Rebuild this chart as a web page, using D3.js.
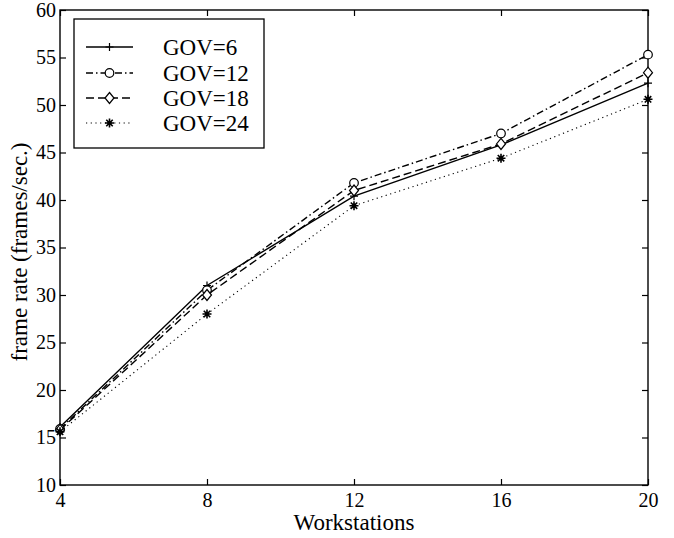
<!DOCTYPE html>
<html>
<head>
<meta charset="utf-8">
<script src="https://cdn.jsdelivr.net/npm/d3@7"></script>
<style>
  html, body { margin: 0; padding: 0; background: #fff; }
  svg text { font-family: "Liberation Serif", "DejaVu Serif", "Times New Roman", serif; fill: #000; }
</style>
</head>
<body>
<svg id="chart" width="674" height="538"></svg>
<script>
// Frame rate vs. number of workstations for several GOV sizes
const workstations = [4, 8, 12, 16, 20];
const gov6  = [16.1, 31.0, 40.4, 45.8, 52.3];
const gov12 = [15.9, 30.5, 41.8, 47.0, 55.3];
const gov18 = [15.8, 30.0, 41.0, 45.9, 53.4];
const gov24 = [15.6, 28.0, 39.4, 44.4, 50.6];
const seriesNames = ["GOV=6", "GOV=12", "GOV=18", "GOV=24"];
const xTicks = [4, 8, 12, 16, 20];
const yTicks = [10, 15, 20, 25, 30, 35, 40, 45, 50, 55, 60];

const series = [
  { name: seriesNames[0], values: gov6,  dash: null,            marker: "plus" },
  { name: seriesNames[1], values: gov12, dash: "7,3,1.5,3",     marker: "circle" },
  { name: seriesNames[2], values: gov18, dash: "8,4",           marker: "diamond" },
  { name: seriesNames[3], values: gov24, dash: "1.2,3.5",       marker: "star" }
];

const svg = d3.select("#chart");
const plotL = 60, plotR = 648, plotT = 10, plotB = 485;

const x = d3.scaleLinear().domain([4, 20]).range([plotL, plotR]);
const y = d3.scaleLinear().domain([10, 60]).range([plotB, plotT]);

// Frame
svg.append("rect")
  .attr("x", plotL).attr("y", plotT)
  .attr("width", plotR - plotL).attr("height", plotB - plotT)
  .attr("fill", "none").attr("stroke", "#000").attr("stroke-width", 1.4);

// Inward ticks on all four sides
const tickLen = 6;
const xb = d3.axisBottom(x).tickValues(xTicks).tickSizeInner(-tickLen).tickSizeOuter(0).tickPadding(10);
const xt = d3.axisTop(x).tickValues(xTicks).tickSizeInner(-tickLen).tickSizeOuter(0).tickFormat("");
const yl = d3.axisLeft(y).tickValues(yTicks).tickSizeInner(-tickLen).tickSizeOuter(0).tickPadding(10);
const yr = d3.axisRight(y).tickValues(yTicks).tickSizeInner(-tickLen).tickSizeOuter(0).tickFormat("");

function styleAxis(g) {
  g.attr("font-family", null).attr("font-size", null);
  g.select(".domain").remove();
  g.selectAll(".tick line").attr("stroke", "#000").attr("stroke-width", 1.2);
  g.selectAll(".tick text").style("font-size", "20px").attr("fill", "#000");
}

svg.append("g").attr("transform", `translate(0,${plotB})`).call(xb).call(styleAxis)
  .selectAll(".tick text").attr("dy", "0.62em");
svg.append("g").attr("transform", `translate(0,${plotT})`).call(xt).call(styleAxis);
svg.append("g").attr("transform", `translate(${plotL},0)`).call(yl).call(styleAxis)
  .selectAll(".tick text").attr("dx", "6px");
svg.append("g").attr("transform", `translate(${plotR},0)`).call(yr).call(styleAxis);

// Axis titles
svg.append("text")
  .attr("x", 354).attr("y", 530)
  .attr("text-anchor", "middle").style("font-size", "23px")
  .text("Workstations");
svg.append("text")
  .attr("transform", `translate(27,252) rotate(-90)`)
  .attr("text-anchor", "middle").style("font-size", "23px")
  .text("frame rate (frames/sec.)");

// Marker drawing
function drawMarker(g, type, cx, cy) {
  if (type === "plus") {
    g.append("path")
      .attr("d", `M${cx - 4},${cy}H${cx + 4}M${cx},${cy - 4}V${cy + 4}`)
      .attr("stroke", "#000").attr("stroke-width", 1.2).attr("fill", "none");
  } else if (type === "circle") {
    g.append("circle").attr("cx", cx).attr("cy", cy).attr("r", 4.3)
      .attr("fill", "#fff").attr("stroke", "#000").attr("stroke-width", 1.2);
  } else if (type === "diamond") {
    g.append("path")
      .attr("d", `M${cx},${cy - 5.5}L${cx + 4.5},${cy}L${cx},${cy + 5.5}L${cx - 4.5},${cy}Z`)
      .attr("fill", "#fff").attr("stroke", "#000").attr("stroke-width", 1.2);
  } else if (type === "star") {
    const r = 4.5, d = r * 0.72;
    g.append("path")
      .attr("d", `M${cx - r},${cy}H${cx + r}M${cx},${cy - r}V${cy + r}` +
                 `M${cx - d},${cy - d}L${cx + d},${cy + d}M${cx - d},${cy + d}L${cx + d},${cy - d}`)
      .attr("stroke", "#000").attr("stroke-width", 1.6).attr("fill", "none");
    g.append("circle").attr("cx", cx).attr("cy", cy).attr("r", 2.2).attr("fill", "#000");
  }
}

// Series lines and markers
const line = d3.line().x((d, i) => x(workstations[i])).y(d => y(d));
series.forEach(s => {
  const g = svg.append("g");
  g.append("path")
    .datum(s.values)
    .attr("d", line)
    .attr("fill", "none")
    .attr("stroke", "#000")
    .attr("stroke-width", s.marker === "star" ? 1.1 : 1.4)
    .attr("stroke-dasharray", s.dash);
  s.values.forEach((v, i) => drawMarker(g, s.marker, x(workstations[i]), y(v)));
});

// Legend
const legend = svg.append("g");
legend.append("rect")
  .attr("x", 74).attr("y", 19).attr("width", 190).attr("height", 129)
  .attr("fill", "#fff").attr("stroke", "#000").attr("stroke-width", 1.3);
const rowY = [47, 73, 98, 123];
series.forEach((s, i) => {
  const ly = rowY[i];
  legend.append("line")
    .attr("x1", 86).attr("x2", 133).attr("y1", ly).attr("y2", ly)
    .attr("stroke", "#000").attr("stroke-width", s.marker === "star" ? 1.1 : 1.4)
    .attr("stroke-dasharray", s.dash);
  drawMarker(legend, s.marker, 109.5, ly);
  legend.append("text")
    .attr("x", 163).attr("y", ly).attr("dy", "0.35em")
    .style("font-size", "23px")
    .text(s.name);
});
</script>
</body>
</html>
